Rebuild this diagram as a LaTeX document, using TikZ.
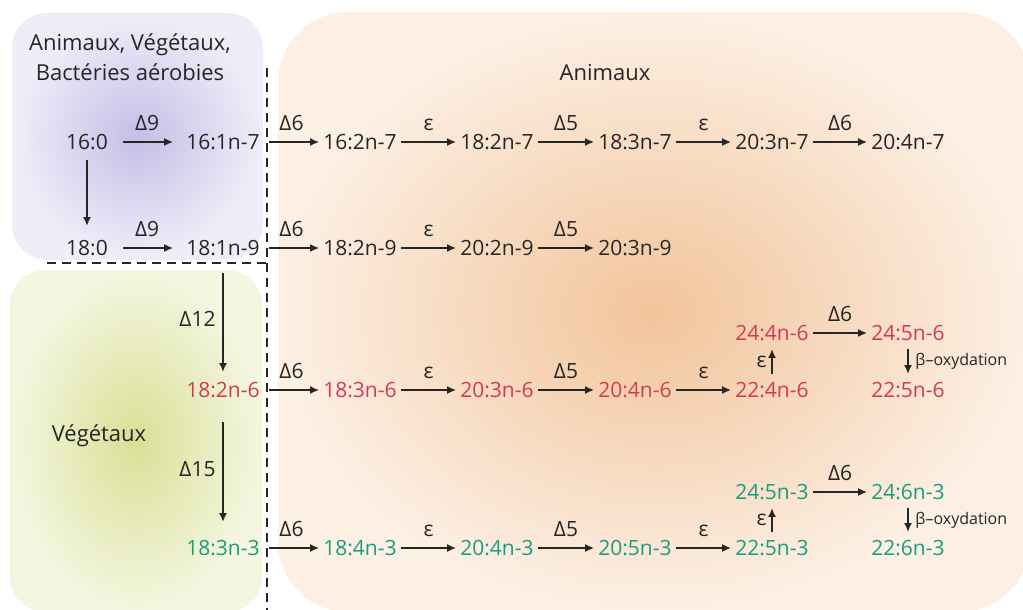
\documentclass[tikz,border=0pt]{standalone}
\usepackage{fontspec}
\setmainfont{Open Sans}
\usepackage{tikz}
\usetikzlibrary{arrows.meta}

\definecolor{txt}{HTML}{262626}
\definecolor{omegasix}{HTML}{D23B57}
\definecolor{omegathree}{HTML}{1A9C80}
\definecolor{lavin}{HTML}{C3BFE7}
\definecolor{lavout}{HTML}{EFEEF8}
\definecolor{vegin}{HTML}{D9E096}
\definecolor{vegout}{HTML}{F4F6E0}
\definecolor{aniin}{HTML}{F2C49B}
\definecolor{aniout}{HTML}{FCF0E4}

\begin{document}
\begin{tikzpicture}[
  x=1pt, y=1pt,
  font=\fontsize{21}{24}\selectfont,
  acid/.style={text=txt, inner sep=4pt},
  nsix/.style={acid, text=omegasix},
  nthree/.style={acid, text=omegathree},
  head/.style={text=txt, align=center, font=\fontsize{22}{30}\selectfont},
  conv/.style={draw=txt, line width=2.3pt, -{Latex[length=9pt, width=8pt]}},
  enz/.style={text=txt, above=9pt, inner sep=1pt},
  beta/.style={text=txt, right=3pt, font=\fontsize{16}{18}\selectfont},
  zone/.style={rounded corners=35pt},
  sep/.style={draw=txt, line width=2.8pt, dash pattern=on 9pt off 6pt},
]
\useasboundingbox (0,0) rectangle (1023,-610);

% fonds
\shade[zone, rounded corners=70pt, inner color=aniin, outer color=aniout] (278,-12) rectangle (1030,-612);
\shade[zone, inner color=lavin, outer color=lavout] (12,-13) rectangle (263,-260);
\shade[zone, inner color=vegin, outer color=vegout] (10,-270) rectangle (262,-612);

% separations
\draw[sep] (267,-68) -- (267,-610);
\draw[sep] (47,-263) -- (267,-263);

% titres
\node[head] (tbact) at (130,-57) {Animaux, Végétaux,\\Bactéries aérobies};
\node[head] (tani) at (605,-73) {Animaux};
\node[head] (tveg) at (99,-436) {Végétaux};

% serie n-7
\node[acid] (c160) at (87,-142) {16:0};
\node[acid] (c161n7) at (223,-142) {16:1n-7};
\node[acid] (c162n7) at (360,-142) {16:2n-7};
\node[acid] (c182n7) at (497,-142) {18:2n-7};
\node[acid] (c183n7) at (635,-142) {18:3n-7};
\node[acid] (c203n7) at (772,-142) {20:3n-7};
\node[acid] (c204n7) at (908,-142) {20:4n-7};

% serie n-9
\node[acid] (c180) at (87,-248) {18:0};
\node[acid] (c181n9) at (223,-248) {18:1n-9};
\node[acid] (c182n9) at (360,-248) {18:2n-9};
\node[acid] (c202n9) at (497,-248) {20:2n-9};
\node[acid] (c203n9) at (635,-248) {20:3n-9};

% serie n-6
\node[nsix] (c182n6) at (223,-390) {18:2n-6};
\node[nsix] (c183n6) at (360,-390) {18:3n-6};
\node[nsix] (c203n6) at (497,-390) {20:3n-6};
\node[nsix] (c204n6) at (635,-390) {20:4n-6};
\node[nsix] (c224n6) at (772,-390) {22:4n-6};
\node[nsix] (c244n6) at (772,-333) {24:4n-6};
\node[nsix] (c245n6) at (908,-333) {24:5n-6};
\node[nsix] (c225n6) at (908,-390) {22:5n-6};

% serie n-3
\node[nthree] (c183n3) at (223,-548) {18:3n-3};
\node[nthree] (c184n3) at (360,-548) {18:4n-3};
\node[nthree] (c204n3) at (497,-548) {20:4n-3};
\node[nthree] (c205n3) at (635,-548) {20:5n-3};
\node[nthree] (c225n3) at (772,-548) {22:5n-3};
\node[nthree] (c245n3) at (772,-492) {24:5n-3};
\node[nthree] (c246n3) at (908,-492) {24:6n-3};
\node[nthree] (c226n3) at (908,-548) {22:6n-3};

% desaturations / elongations
\draw[conv, shorten <=11pt, shorten >=9pt] (c160) -- node[enz]{Δ9} (c161n7);
\draw[conv, shorten <=11pt, shorten >=9pt] (c180) -- node[enz]{Δ9} (c181n9);
\draw[conv, shorten <=6pt, shorten >=10pt] (c160) -- (c180);

\draw[conv, shorten <=5pt] (c161n7) -- node[enz]{Δ6} (c162n7);
\draw[conv] (c162n7) -- node[enz]{ε} (c182n7);
\draw[conv] (c182n7) -- node[enz]{Δ5} (c183n7);
\draw[conv] (c183n7) -- node[enz]{ε} (c203n7);
\draw[conv] (c203n7) -- node[enz]{Δ6} (c204n7);

\draw[conv, shorten <=5pt] (c181n9) -- node[enz]{Δ6} (c182n9);
\draw[conv] (c182n9) -- node[enz]{ε} (c202n9);
\draw[conv] (c202n9) -- node[enz]{Δ5} (c203n9);

\draw[conv, shorten <=13pt, shorten >=6pt] (c181n9) -- node[text=txt, left=3pt]{Δ12} (c182n6);
\draw[conv, shorten <=20pt, shorten >=14pt] (c182n6) -- node[text=txt, left=3pt]{Δ15} (c183n3);

\draw[conv, shorten <=5pt] (c182n6) -- node[enz]{Δ6} (c183n6);
\draw[conv] (c183n6) -- node[enz]{ε} (c203n6);
\draw[conv] (c203n6) -- node[enz]{Δ5} (c204n6);
\draw[conv] (c204n6) -- node[enz]{ε} (c224n6);
\draw[conv, shorten <=4pt, shorten >=4pt] (c224n6) -- node[text=txt, left=1pt]{ε} (c244n6);
\draw[conv] (c244n6) -- node[enz]{Δ6} (c245n6);
\draw[conv, shorten <=4pt, shorten >=4pt] (c245n6) -- node[beta]{β–oxydation} (c225n6);

\draw[conv, shorten <=5pt] (c183n3) -- node[enz]{Δ6} (c184n3);
\draw[conv] (c184n3) -- node[enz]{ε} (c204n3);
\draw[conv] (c204n3) -- node[enz]{Δ5} (c205n3);
\draw[conv] (c205n3) -- node[enz]{ε} (c225n3);
\draw[conv, shorten <=4pt, shorten >=4pt] (c225n3) -- node[text=txt, left=1pt]{ε} (c245n3);
\draw[conv] (c245n3) -- node[enz]{Δ6} (c246n3);
\draw[conv, shorten <=4pt, shorten >=4pt] (c246n3) -- node[beta]{β–oxydation} (c226n3);
\end{tikzpicture}
\end{document}
